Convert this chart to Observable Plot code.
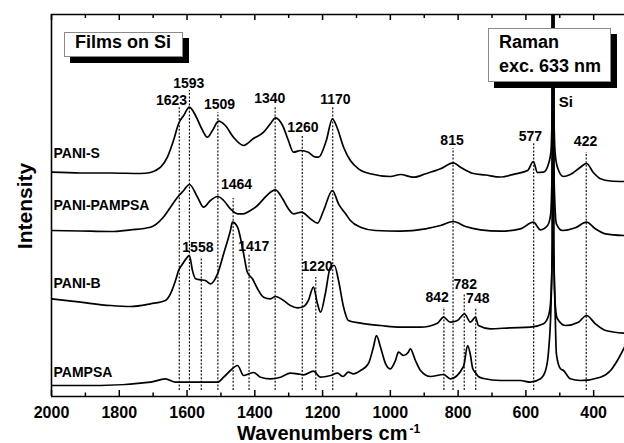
<!DOCTYPE html>
<html>
<head>
<meta charset="utf-8">
<script src="https://cdn.jsdelivr.net/npm/d3@7"></script>
<script src="https://cdn.jsdelivr.net/npm/@observablehq/plot@0.6"></script>
<style>
  html, body { margin: 0; padding: 0; background: #fff; }
  #wrap { position: relative; width: 624px; height: 443px; overflow: hidden;
          font-family: "Liberation Sans", Arial, sans-serif; font-weight: bold; color: #000; }
  .box { position: absolute; background: #fff; border: 1px solid #8a8a8a;
         box-shadow: 6px 6px 0 0 #000; box-sizing: border-box; font-size: 18px; }
  .lbl { position: absolute; white-space: nowrap; }
</style>
</head>
<body>
<div id="wrap"></div>
<script>
// ---------------- data (wavenumber cm^-1, intensity in arbitrary stacked units) ----------------
const seriesNames = ["PANI-S", "PANI-PAMPSA", "PANI-B", "PAMPSA"];
const seriesLabelLevel = [239, 186.5, 108.7, 20];

const paniS = [
  [2000,224.3],[1914,223.5],[1826,223.5],[1737,223],[1708,224],[1693,226],[1678,229.3],[1658,239.3],
  [1640,256],[1625,272.7],[1610,281],[1593,289.3],[1575,281],[1557,268],[1540,259.3],[1525,266],
  [1507,275.3],[1487,271],[1463,259.3],[1433,251],[1404,258],[1374,264.3],[1354,272.7],[1339,278.7],
  [1318,271],[1301,256],[1286,244.3],[1265,246],[1242,244.3],[1221,239.3],[1212,239.3],[1189,256],
  [1171,277.7],[1156,267.7],[1138,249.3],[1118,236],[1094,227.7],[1059,222.7],[1000,220],[970,222],
  [932,219.3],[896,222.7],[852,227.7],[814,233.7],[793,229.3],[758,223.3],[719,221.5],[675,219.5],
  [631,222.7],[595,226],[578,235],[566,224],[548,224.3],[533,233],[526,245],[522,300],[520,3000],[518,300],[514,245],
  [507,229.3],[489,220],[469,222],[439,229.3],[421,233],[401,224],[380,217.7],[350,215.5],[309,215]
];
const paniPampsa = [
  [2000,166],[1914,165.5],[1826,165],[1767,166.7],[1708,169.3],[1670,179.3],[1649,189.3],[1628,199.3],
  [1610,206],[1593,212],[1569,199.3],[1551,189.3],[1531,196],[1510,200],[1492,196],[1472,187.7],
  [1451,182.7],[1433,182.7],[1413,186],[1392,191],[1374,197.7],[1354,204.3],[1339,206.7],[1318,197.7],
  [1301,187.7],[1286,182.7],[1262,184.3],[1236,177.7],[1215,173.3],[1197,186],[1171,206],[1153,192.7],
  [1132,182.7],[1118,176],[1088,169.3],[1044,166],[970,165.3],[896,167.7],[852,171],[814,175],
  [778,170],[734,166.7],[675,165.3],[616,167.7],[578,174.3],[557,166.7],[536,171],[527,182],[522,240],
  [520,3000],[518,240],[513,182],[510,172.7],[492,166],[454,168.7],[421,174.3],[395,167.7],[365,162.7],[309,161]
];
const paniB = [
  [2000,97.7],[1914,94.3],[1826,91],[1767,90],[1708,92.7],[1664,96],[1649,102.7],[1634,116],
  [1625,126],[1613,132.7],[1599,139.3],[1593,141],[1584,126],[1575,117.7],[1560,116.7],[1546,116],
  [1531,112.7],[1510,122.7],[1492,142.7],[1472,166],[1466,174.3],[1451,169.3],[1433,142.7],[1422,124.3],
  [1407,117.7],[1392,107.7],[1374,99.3],[1354,97.7],[1339,100],[1315,96],[1295,91],[1274,88.7],
  [1256,90],[1242,96],[1227,109.3],[1215,92.7],[1206,84.3],[1192,102.7],[1177,129.3],[1168,131],
  [1165,131],[1153,116],[1138,89.3],[1124,76],[1088,73.3],[1029,71],[970,69.3],[911,69.3],
  [861,73.3],[843,79.3],[823,74.3],[802,76],[781,82.7],[764,74.3],[749,79.3],[740,71],[705,67.7],
  [646,68.7],[587,69.3],[548,72.7],[533,81],[527,95],[522,150],[520,3000],[518,150],[513,90],
  [507,77.7],[483,71],[445,74.3],[421,81],[395,72.7],[365,66],[309,63.3]
];
const pampsa = [
  [2000,11],[1855,11],[1708,14.3],[1664,17.7],[1634,14.3],[1619,14.3],[1560,14.3],[1510,14.3],
  [1492,19.3],[1472,26],[1451,31],[1433,21],[1413,23.3],[1404,24],[1383,19.3],[1354,17.7],
  [1324,19.3],[1295,23.3],[1274,22.7],[1256,21.7],[1227,25.3],[1206,19.3],[1177,21],[1156,23.3],
  [1140,20],[1124,24.3],[1109,22.7],[1088,26],[1065,32.7],[1050,49.3],[1041,61],[1029,49.3],
  [1014,32.7],[1000,27.7],[985,36],[976,44.3],[961,41],[947,44.3],[941,47.7],[926,36],[911,26],
  [882,20],[843,22],[823,17.7],[784,30],[772,51],[764,42],[757,28],[749,24],[740,20],[725,18],
  [675,16],[616,16],[587,14.3],[557,17.7],[542,26],[533,46],[526,90],[522,160],[520,3000],[518,160],[514,90],
  [510,42.7],[498,27.7],[489,26],[469,17.7],[439,16],[380,19.3],[350,26],[330,36],[309,49.3]
];

const peakWn      = [1623, 1593, 1509, 1340, 1260, 1170, 1464, 1558, 1417, 1220, 815, 577, 422, 842, 782, 748];
const peakText    = ["1623","1593","1509","1340","1260","1170","1464","1558","1417","1220","815","577","422","842","782","748"];
const peakLabelWn = [1646, 1595, 1504, 1356, 1258, 1162, 1454, 1568, 1403, 1216, 818, 587, 424, 862, 779, 742];
const peakLabelLevel = [292, 308.7, 287.7, 293.7, 264.3, 292.7, 207.7, 144.3, 146, 126, 252, 256, 251, 94.3, 108, 93.5];
const dashTop     = [290, 306, 284, 290, 261, 289, 198, 139, 142, 119, 248, 253, 244, 89, 103, 88];
const dashBottom  = 6;

const majorTicks = [2000, 1800, 1600, 1400, 1200, 1000, 800, 600, 400];
const minorTicks = [1900, 1700, 1500, 1300, 1100, 900, 700, 500];
const xDomain = [2000, 309];
const yDomain = [0, 382];

// ---------------- build ----------------
const FONT = '"Liberation Sans", Arial, sans-serif';
const frameH = 382;
const toRows = (arr, name) => arr.map(([wn, v]) => ({wn, v, name}));
const allSeries = [paniS, paniPampsa, paniB, pampsa];
const rows = allSeries.flatMap((s, i) => toRows(s, seriesNames[i]));
const dashes = peakWn.map((w, i) => ({w, top: dashTop[i], bottom: dashBottom}));
const peakLabels = peakText.map((t, i) => ({t, x: peakLabelWn[i], y: peakLabelLevel[i]}));
const nameLabels = seriesNames.map((n, i) => ({n, y: seriesLabelLevel[i]}));

const chart = Plot.plot({
  width: 624, height: 443,
  marginLeft: 51, marginRight: 0, marginTop: 14, marginBottom: 47,
  style: {fontFamily: FONT, background: "transparent", color: "#000"},
  x: {domain: xDomain},
  y: {domain: yDomain, axis: null},
  marks: [
    Plot.ruleX(dashes, {x: "w", y1: "bottom", y2: "top", stroke: "#000", strokeWidth: 1.1, strokeDasharray: "2,1.6"}),
    Plot.line(rows, {x: "wn", y: "v", z: "name", stroke: "#000", strokeWidth: 1.7, curve: "monotone-x", clip: true}),
    Plot.ruleX([xDomain[0]], {stroke: "#000", strokeWidth: 1.6}),
    Plot.ruleY(yDomain, {stroke: "#000", strokeWidth: 1.6}),
    Plot.tickX(majorTicks, {x: d => d, insetTop: frameH - 6, stroke: "#000", strokeWidth: 1.5}),
    Plot.tickX(minorTicks, {x: d => d, insetTop: frameH - 3.5, stroke: "#000", strokeWidth: 1.5}),
    Plot.tickX(majorTicks, {x: d => d, insetBottom: frameH - 6, stroke: "#000", strokeWidth: 1.5}),
    Plot.tickX(minorTicks, {x: d => d, insetBottom: frameH - 4, stroke: "#000", strokeWidth: 1.5}),
    Plot.axisX(majorTicks, {anchor: "bottom", tickSize: 0, tickPadding: 10.5, fontSize: 16, fontWeight: "bold", fill: "#000", tickFormat: d => String(d)}),
    Plot.text(peakLabels, {x: "x", y: "y", text: "t", fontSize: 14, fontWeight: "bold", fill: "#000", lineAnchor: "bottom"}),
    Plot.text(nameLabels, {frameAnchor: "left", y: "y", text: "n", dx: 2, textAnchor: "start", lineAnchor: "bottom", fontSize: 14, fontWeight: "bold", fill: "#000"}),
    Plot.text(["Si"], {x: 503, y: 290, text: d => d, textAnchor: "start", lineAnchor: "bottom", fontSize: 15, fontWeight: "bold", fill: "#000"})
  ]
});

const wrap = document.getElementById("wrap");
wrap.appendChild(chart);
chart.style.position = "absolute";
chart.style.left = "0px";
chart.style.top = "0px";

function addDiv(cls, css, html) {
  const d = document.createElement("div");
  d.className = cls;
  d.style.cssText = css;
  d.innerHTML = html;
  wrap.appendChild(d);
  return d;
}
addDiv("box", "left:64px;top:32px;width:119px;height:25px;line-height:18px;padding:0 0 0 10px;", "Films on Si");
addDiv("box", "left:488px;top:28px;width:123px;height:54px;line-height:24.4px;padding:1px 0 0 10px;", "Raman<br>exc. 633 nm");
addDiv("lbl", "left:237px;top:425px;font-size:20px;line-height:17px;", 'Wavenumbers cm<span style="position:relative;top:-0.62em;font-size:12px;line-height:0;margin-left:2px;">-1</span>');
addDiv("lbl", "left:24px;top:206px;font-size:21px;line-height:21px;transform:translate(-50%,-50%) rotate(-90deg);", "Intensity");
</script>
</body>
</html>
